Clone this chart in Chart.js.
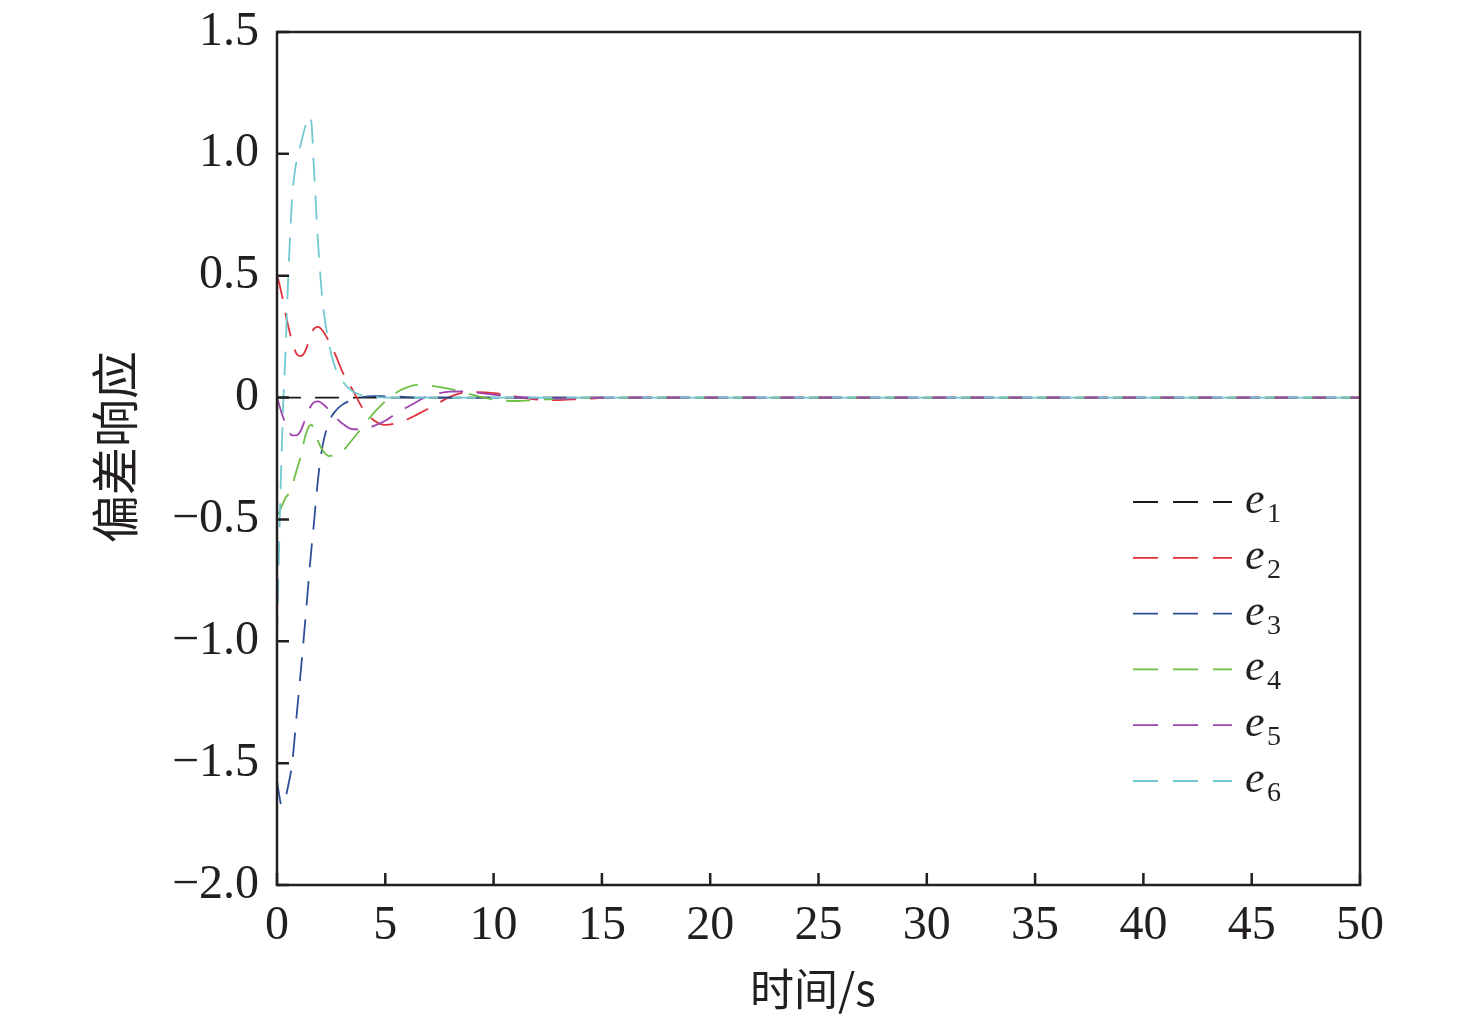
<!DOCTYPE html>
<html>
<head>
<meta charset="utf-8">
<script src="https://cdn.jsdelivr.net/npm/chart.js@4/dist/chart.umd.min.js"></script>
<style>
  html, body { margin: 0; padding: 0; background: #fff; }
  #wrap { width: 1476px; height: 1028px; position: relative; }
</style>
</head>
<body>
<div id="wrap"><canvas id="c" width="1476" height="1028"></canvas></div>
<script>
// ---- data ----
const time = [0,0.1,0.2,0.3,0.4,0.5,0.7,0.9,1.1,1.3,1.5,1.6,1.7,1.9,2.1,2.4,2.7,3.0,3.5,4.0,4.5,5.0,5.5,6.0,6.5,7.0,7.5,8.0,8.5,9.0,10,11,12,13,14,16,20,30,40,50];
const e1 = [0,0,0,0,0,0,0,0,0,0,0,0,0,0,0,0,0,0,0,0,0,0,0,0,0,0,0,0,0,0,0,0,0,0,0,0,0,0,0,0];
const e2 = [0.5,0.47,0.43,0.39,0.34,0.30,0.23,0.18,0.17,0.19,0.24,0.265,0.282,0.29,0.275,0.23,0.175,0.11,0.03,-0.05,-0.095,-0.112,-0.105,-0.09,-0.068,-0.045,-0.02,0.004,0.018,0.022,0.018,0.005,-0.008,-0.01,-0.006,0,0,0,0,0];
const e3 = [-1.57,-1.63,-1.67,-1.67,-1.64,-1.60,-1.50,-1.31,-1.12,-0.92,-0.71,-0.61,-0.52,-0.33,-0.20,-0.10,-0.055,-0.03,-0.008,0.003,0.006,0.005,0.004,0.002,0,0,0,0,0,0,0,0,0,0,0,0,0,0,0,0];
const e4 = [-0.48,-0.47,-0.45,-0.43,-0.41,-0.40,-0.36,-0.30,-0.24,-0.16,-0.115,-0.112,-0.13,-0.18,-0.215,-0.24,-0.235,-0.222,-0.17,-0.115,-0.06,-0.015,0.02,0.042,0.052,0.05,0.043,0.035,0.025,0.012,-0.008,-0.014,-0.01,-0.005,-0.002,0,0,0,0,0];
const e5 = [0,-0.03,-0.06,-0.085,-0.11,-0.13,-0.155,-0.155,-0.135,-0.09,-0.045,-0.03,-0.02,-0.016,-0.025,-0.05,-0.08,-0.105,-0.13,-0.13,-0.115,-0.095,-0.065,-0.04,-0.015,0.008,0.018,0.024,0.025,0.022,0.012,0.003,-0.003,-0.004,-0.002,0,0,0,0,0];
const e6 = [-1.0,-0.6,-0.27,0.0,0.2,0.45,0.82,0.97,1.04,1.11,1.155,1.12,0.95,0.63,0.40,0.22,0.12,0.07,0.025,0.008,0.002,0,0,0,0,0,0,0,0,0,0,0,0,0,0,0,0,0,0,0];
const seriesNames = ['1','2','3','4','5','6'];
const seriesValues = [e1, e2, e3, e4, e5, e6];
const seriesColors = ['#1a1a1a', '#e0323a', '#2e4f96', '#6dbf45', '#a044b0', '#72c9d0'];
const xTicks = [0,5,10,15,20,25,30,35,40,45,50];
const yTicks = [-2.0,-1.5,-1.0,-0.5,0,0.5,1.0,1.5];
const xTitle = '时间/s';
const yTitle = '偏差响应';

const DASH = [24, 14];
const datasets = seriesValues.map((vals, i) => ({
  label: 'e' + seriesNames[i],
  data: vals.map((v, k) => ({ x: time[k], y: v })),
  borderColor: seriesColors[i],
  borderWidth: 1.8,
  borderDash: DASH,
  pointRadius: 0,
  fill: false,
  cubicInterpolationMode: 'monotone',
  order: seriesValues.length - i
}));

const fmtY = v => (Math.abs(v) < 1e-9 ? '0' : v.toFixed(1).replace('-', '\u2212'));

const framePlugin = {
  id: 'frame',
  afterDatasetsDraw(chart) {
    const { ctx, chartArea: a, scales } = chart;
    ctx.save();
    ctx.strokeStyle = '#231f20';
    ctx.lineWidth = 2.5;
    ctx.setLineDash([]);
    ctx.strokeRect(a.left, a.top, a.right - a.left, a.bottom - a.top);
    // inward ticks
    ctx.beginPath();
    xTicks.forEach(t => {
      const px = scales.x.getPixelForValue(t);
      ctx.moveTo(px, a.bottom);
      ctx.lineTo(px, a.bottom - 12);
    });
    yTicks.forEach(t => {
      const py = scales.y.getPixelForValue(t);
      ctx.moveTo(a.left, py);
      ctx.lineTo(a.left + 12, py);
    });
    ctx.stroke();

    // legend
    const lx0 = 1133, lx1 = 1232, ly0 = 502, dy = 55.8;
    seriesNames.forEach((n, i) => {
      const y = ly0 + i * dy;
      ctx.strokeStyle = seriesColors[i];
      ctx.lineWidth = 1.8;
      ctx.setLineDash([25, 15]);
      ctx.beginPath();
      ctx.moveTo(lx0, y);
      ctx.lineTo(lx1, y);
      ctx.stroke();
      ctx.setLineDash([]);
      ctx.fillStyle = '#231f20';
      ctx.textBaseline = 'alphabetic';
      ctx.textAlign = 'left';
      ctx.font = 'italic 44px "Liberation Serif", "Times New Roman", serif';
      ctx.fillText('e', 1245, y + 11);
      ctx.font = '28px "Liberation Serif", "Times New Roman", serif';
      ctx.fillText(n, 1267, y + 20);
    });

    // axis titles
    ctx.fillStyle = '#231f20';
    ctx.textAlign = 'center';
    ctx.textBaseline = 'middle';
    ctx.font = '44px "Noto Sans CJK SC", sans-serif';
    ctx.fillText(xTitle, 813, 989);
    ctx.save();
    ctx.translate(115, 447);
    ctx.rotate(-Math.PI / 2);
    ctx.font = '48px "Noto Sans CJK SC", sans-serif';
    ctx.fillText(yTitle, 0, 0);
    ctx.restore();
    ctx.restore();
  }
};

new Chart(document.getElementById('c'), {
  type: 'line',
  data: { datasets },
  options: {
    responsive: false,
    animation: false,
    layout: { padding: { left: 0, right: 116, top: 32, bottom: 0 } },
    plugins: { legend: { display: false }, tooltip: { enabled: false } },
    scales: {
      x: {
        type: 'linear',
        min: 0, max: 50,
        afterFit: s => { s.height = 143; s.paddingLeft = 0; s.paddingRight = 0; },
        afterBuildTicks: s => { s.ticks = xTicks.map(v => ({ value: v })); },
        grid: { display: false, drawTicks: false },
        border: { display: false },
        ticks: {
          padding: 13,
          color: '#231f20',
          font: { family: '"Liberation Serif", "Times New Roman", serif', size: 48 },
          maxRotation: 0,
          callback: v => String(v)
        }
      },
      y: {
        type: 'linear',
        min: -2, max: 1.5,
        afterFit: s => { s.width = 277; s.paddingTop = 0; s.paddingBottom = 0; },
        afterBuildTicks: s => { s.ticks = yTicks.map(v => ({ value: v })); },
        grid: { display: false, drawTicks: false },
        border: { display: false },
        ticks: {
          padding: 18,
          color: '#231f20',
          font: { family: '"Liberation Serif", "Times New Roman", serif', size: 48 },
          callback: v => fmtY(v)
        }
      }
    }
  },
  plugins: [framePlugin]
});
</script>
</body>
</html>
